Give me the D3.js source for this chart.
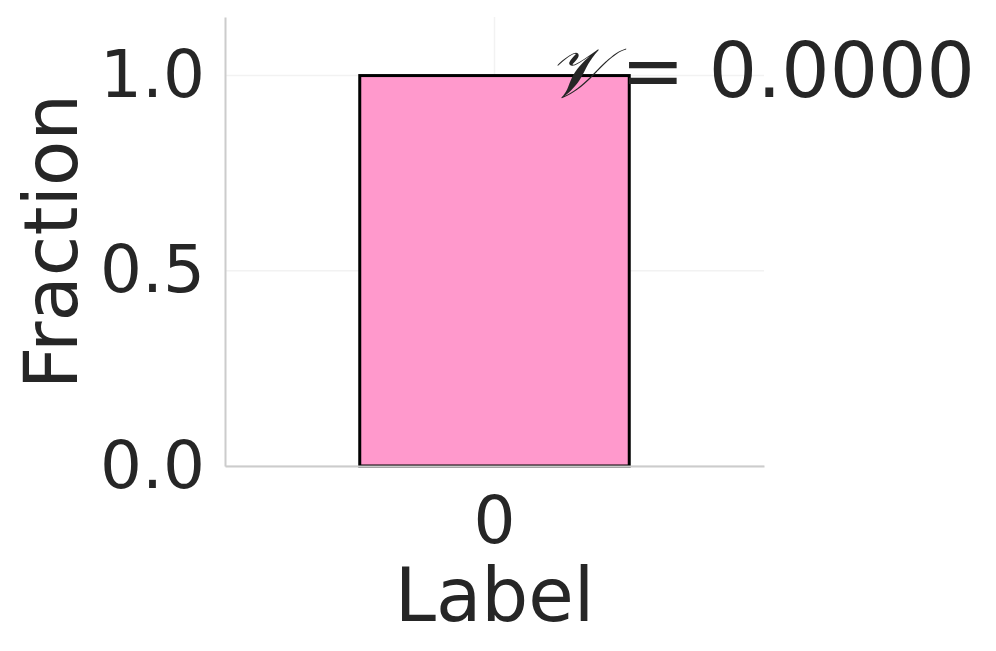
<!DOCTYPE html>
<html>
<head>
<meta charset="utf-8">
<script src="https://cdn.jsdelivr.net/npm/d3@7"></script>
<style>
  body { margin: 0; background: #fff; }
  text { font-family: "DejaVu Sans", sans-serif; fill: #262626; }
</style>
</head>
<body>
<script>
var svgWidth = 996;
var svgHeight = 651;

var margin = { top: 17, right: 232, bottom: 185, left: 225 };

// data
var categories = ["0"];
var fractions = [1.0];
var yTicks = [0.0, 0.5, 1.0];
var scoreLabel = "0.0000";

var chartWidth = svgWidth - margin.left - margin.right;
var chartHeight = svgHeight - margin.top - margin.bottom;

var svg = d3.select("body")
  .append("svg")
  .attr("width", svgWidth)
  .attr("height", svgHeight);

var chartGroup = svg.append("g")
  .attr("transform", `translate(${margin.left}, ${margin.top})`);

var xScale = d3.scaleBand()
  .domain(categories)
  .range([0, chartWidth])
  .padding(1 / 3);

var yScale = d3.scaleLinear()
  .domain([0, 1.15])
  .range([chartHeight, 0]);

// grid
chartGroup.selectAll(".hgrid")
  .data(yTicks)
  .enter()
  .append("line")
  .attr("x1", 0)
  .attr("x2", chartWidth)
  .attr("y1", d => yScale(d))
  .attr("y2", d => yScale(d))
  .attr("stroke", "#f2f2f2")
  .attr("stroke-width", 1.5);

chartGroup.selectAll(".vgrid")
  .data(categories)
  .enter()
  .append("line")
  .attr("x1", d => xScale(d) + xScale.bandwidth() / 2)
  .attr("x2", d => xScale(d) + xScale.bandwidth() / 2)
  .attr("y1", 0)
  .attr("y2", chartHeight)
  .attr("stroke", "#f2f2f2")
  .attr("stroke-width", 1.5);

// bars
chartGroup.selectAll("rect")
  .data(fractions)
  .enter()
  .append("rect")
  .attr("x", (d, i) => xScale(categories[i]))
  .attr("y", d => yScale(d))
  .attr("width", xScale.bandwidth())
  .attr("height", d => chartHeight - yScale(d))
  .attr("fill", "#ff99cc")
  .attr("stroke", "#000")
  .attr("stroke-width", 3);

// axes
var yAxis = chartGroup.append("g")
  .call(d3.axisLeft(yScale).tickValues(yTicks).tickFormat(d3.format(".1f")).tickSize(0).tickPadding(20));

var xAxis = chartGroup.append("g")
  .attr("transform", `translate(0, ${chartHeight})`)
  .call(d3.axisBottom(xScale).tickSize(0).tickPadding(30));

[yAxis, xAxis].forEach(function(ax) {
  ax.select(".domain").attr("stroke", "#cccccc").attr("stroke-width", 2);
  ax.selectAll("text")
    .style("font-family", "'DejaVu Sans', sans-serif")
    .style("font-size", "66px")
    .attr("fill", "#262626");
});
xAxis.selectAll("text").attr("dy", "0.71em");

// labels
svg.append("text")
  .attr("x", margin.left + chartWidth / 2)
  .attr("y", 621)
  .attr("text-anchor", "middle")
  .style("font-size", "74px")
  .text("Label");

svg.append("text")
  .attr("transform", `translate(77, ${margin.top + chartHeight / 2}) rotate(-90)`)
  .attr("text-anchor", "middle")
  .style("font-size", "74px")
  .text("Fraction");

// score annotation
var noteY = yScale(0.944);
chartGroup.append("text")
  .attr("x", 322)
  .attr("y", noteY)
  .style("font-family", "'DejaVu Serif', serif")
  .style("font-style", "italic")
  .style("font-size", "70px")
  .text("\u{1D4B1}");
chartGroup.append("text")
  .attr("x", 396)
  .attr("y", noteY)
  .style("font-size", "76px")
  .text("= " + scoreLabel);
</script>
</body>
</html>
